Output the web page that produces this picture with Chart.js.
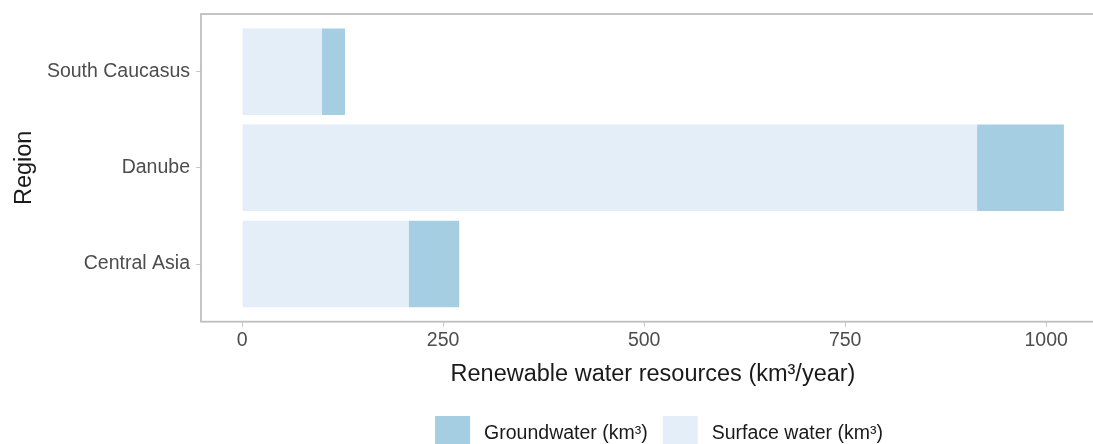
<!DOCTYPE html>
<html lang="en">
<head>
    <meta charset="UTF-8">
    <title>Renewable water resources by region</title>
    <script src="https://cdn.jsdelivr.net/npm/chart.js"></script>
    <style>
        html, body { margin: 0; padding: 0; overflow: hidden; background: #ffffff; }
    </style>
</head>
<body>
    <canvas id="waterChart" width="1106" height="444"></canvas>

    <script>
        // Data (bottom to top)
        const regions = ['Central Asia', 'Danube', 'South Caucasus'];
        const surfaceWater = [207, 914, 99];
        const groundwater = [63, 108, 29];
        const seriesLabels = ['Surface water (km³)', 'Groundwater (km³)'];
        const xTicks = [0, 250, 500, 750, 1000];

        const FONT = "'Liberation Sans', Arial, Helvetica, sans-serif";

        // panel frame (top, left, bottom) + legend under the axis title
        const framePlugin = {
            id: 'frame',
            afterDraw(chart) {
                const { ctx, chartArea } = chart;
                ctx.save();
                ctx.strokeStyle = '#bebebe';
                ctx.lineWidth = 1.8;
                ctx.strokeRect(chartArea.left, chartArea.top, chartArea.right - chartArea.left, chartArea.bottom - chartArea.top);

                // legend: groundwater first, then surface water
                const items = chart.data.datasets.slice().reverse();
                ctx.font = '19.5px ' + FONT;
                ctx.textBaseline = 'middle';
                ctx.textAlign = 'left';
                const box = 35, gap = 14, between = 15;
                let total = 0;
                items.forEach((ds, i) => {
                    total += box + gap + ctx.measureText(ds.label).width;
                    if (i < items.length - 1) total += between;
                });
                let x = 659 - total / 2;
                items.forEach(ds => {
                    ctx.fillStyle = ds.backgroundColor;
                    ctx.fillRect(x, 416, box, box);
                    x += box + gap;
                    ctx.fillStyle = '#1a1a1a';
                    ctx.fillText(ds.label, x, 434);
                    x += ctx.measureText(ds.label).width + between;
                });
                ctx.restore();
            }
        };

        new Chart(document.getElementById('waterChart').getContext('2d'), {
            type: 'bar',
            data: {
                datasets: [{
                    label: seriesLabels[0],
                    data: regions.map((r, i) => ({ x: surfaceWater[i], y: i })),
                    backgroundColor: '#e3eef9'
                }, {
                    label: seriesLabels[1],
                    data: regions.map((r, i) => ({ x: groundwater[i], y: i })),
                    backgroundColor: '#a6cee3'
                }]
            },
            options: {
                indexAxis: 'y',
                responsive: false,
                animation: false,
                barPercentage: 0.9,
                categoryPercentage: 1.0,
                layout: { padding: { top: 14, right: 1, left: 0, bottom: 0 } },
                plugins: {
                    legend: { display: false },
                    tooltip: { enabled: false }
                },
                scales: {
                    x: {
                        type: 'linear',
                        stacked: true,
                        offset: false,
                        min: -51.1,
                        max: 1073.1,
                        border: { display: false },
                        grid: { drawOnChartArea: false, offset: false, tickLength: 5, color: '#c8c8c8' },
                        afterBuildTicks(scale) { scale.ticks = xTicks.map(v => ({ value: v })); },
                        afterFit(scale) {
                            scale.height = 444 - 321.7;
                            scale.paddingLeft = 0;
                            scale.paddingRight = 0;
                        },
                        ticks: {
                            color: '#4d4d4d',
                            font: { family: FONT, size: 19.5 },
                            padding: 2,
                            maxRotation: 0,
                            callback: (v) => String(v)
                        },
                        title: {
                            display: true,
                            text: 'Renewable water resources (km³/year)',
                            color: '#1a1a1a',
                            font: { family: FONT, size: 23.5 },
                            padding: { top: 0, bottom: 55 }
                        }
                    },
                    y: {
                        type: 'linear',
                        stacked: true,
                        offset: false,
                        min: -0.6,
                        max: 2.6,
                        border: { display: false },
                        grid: { drawOnChartArea: false, offset: false, tickLength: 5, color: '#c8c8c8' },
                        afterBuildTicks(scale) { scale.ticks = regions.map((r, i) => ({ value: i })); },
                        afterFit(scale) {
                            scale.width = 201;
                            scale.paddingTop = 0;
                            scale.paddingBottom = 0;
                        },
                        ticks: {
                            color: '#4d4d4d',
                            font: { family: FONT, size: 19.5 },
                            padding: 6,
                            callback: (v) => regions[v] ?? ''
                        },
                        title: {
                            display: true,
                            text: 'Region',
                            color: '#1a1a1a',
                            font: { family: FONT, size: 23.5 },
                            padding: { top: 10, bottom: 0 }
                        }
                    }
                }
            },
            plugins: [framePlugin]
        });
    </script>
</body>
</html>
